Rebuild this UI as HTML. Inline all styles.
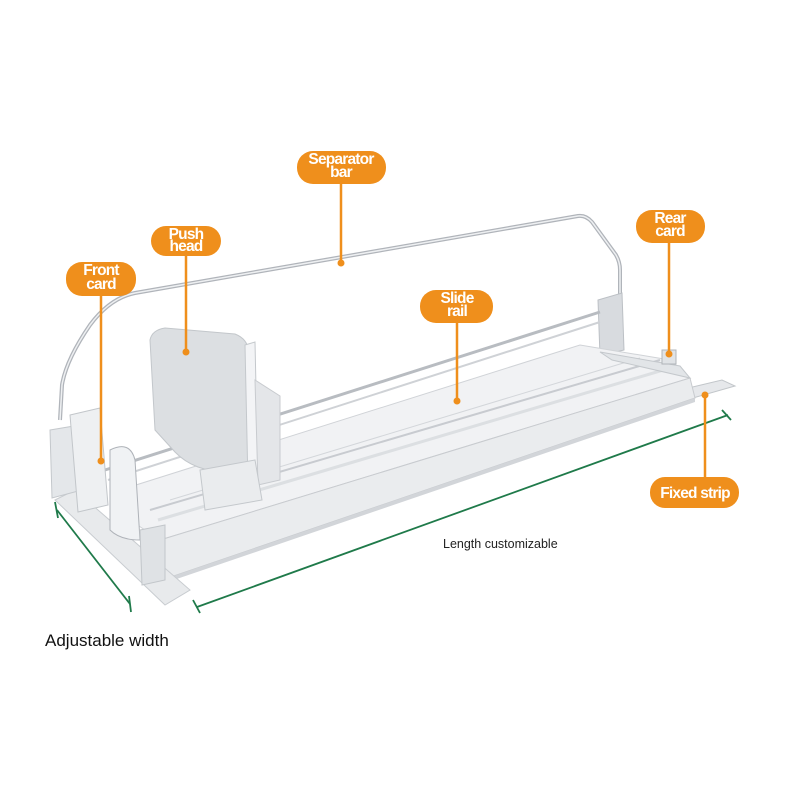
<!DOCTYPE html>
<html><head><meta charset="utf-8"><style>
html,body{margin:0;padding:0;background:#fff;}
svg{display:block;}
text{font-family:"Liberation Sans",Arial,sans-serif;}
.pl{font-weight:bold;fill:#fff;font-size:15.5px;text-anchor:middle;letter-spacing:-0.8px;}
</style></head><body>
<svg width="790" height="790" viewBox="0 0 790 790" xmlns="http://www.w3.org/2000/svg">
<rect width="790" height="790" fill="#fff"/>
<polygon points="680,390 722,380 735,386 693,398" fill="#e6e8eb" stroke="#c2c6ca" stroke-width="1"/>
<path d="M60,420 L62,385 Q66,360 90,325 Q110,298 135,293 L578,216 Q586,215 592,222 L616,255 Q620,262 620,270 L620,300" fill="none" stroke="#b0b4ba" stroke-width="4"/>
<path d="M60,420 L62,385 Q66,360 90,325 Q110,298 135,293 L578,216 Q586,215 592,222 L616,255 Q620,262 620,270 L620,300" fill="none" stroke="#eef0f2" stroke-width="1.5"/>
<polygon points="598,300 622,293 624,350 600,356" fill="#d8dbdf" stroke="#bcc0c5"/>
<line x1="105" y1="470" x2="600" y2="312" stroke="#b8bcc1" stroke-width="3"/>
<line x1="108" y1="480" x2="600" y2="322" stroke="#cfd2d6" stroke-width="2"/>
<polygon points="120,490 580,345 670,360 690,378 160,540 130,520" fill="#f1f2f4" stroke="#d0d3d7"/>
<line x1="150" y1="510" x2="660" y2="360" stroke="#c8cbd0" stroke-width="2"/>
<line x1="158" y1="520" x2="670" y2="368" stroke="#dcdfe2" stroke-width="3"/>
<line x1="170" y1="500" x2="640" y2="358" stroke="#d3d6da" stroke-width="1"/>
<polygon points="600,352 680,366 690,378 612,360" fill="#e2e5e8" stroke="#c4c8cc"/>
<rect x="662" y="350" width="14" height="14" fill="#e0e3e6" stroke="#b0b4b9"/>
<polygon points="160,540 690,378 695,398 162,580" fill="#eaecee" stroke="#c8cbcf"/>
<polygon points="162,580 695,398 695,402 162,584" fill="#d2d5d9"/>
<polygon points="55,500 75,490 190,590 165,605" fill="#e8eaec" stroke="#c8ccd0"/>
<polygon points="50,430 80,425 82,490 52,498" fill="#e4e7ea" stroke="#c4c8cc"/>
<polygon points="70,415 100,408 108,505 78,512" fill="#eef0f2" stroke="#c2c6ca"/>
<path d="M110,450 Q130,440 135,460 L140,540 Q120,540 110,530 Z" fill="#f0f2f4" stroke="#aeb2b8"/>
<polygon points="140,530 165,525 165,580 142,585" fill="#dfe2e5" stroke="#c2c6ca"/>
<path d="M150,340 Q152,330 165,328 L235,334 Q250,340 248,355 L250,470 Q200,478 175,452 L155,430 Z" fill="#dcdfe2" stroke="#c3c7cb"/>
<polygon points="245,345 255,342 258,480 248,485" fill="#f3f4f6" stroke="#c4c8cc"/>
<polygon points="255,380 280,396 280,480 258,485" fill="#e4e6e9" stroke="#c8cbcf"/>
<polygon points="200,470 255,460 262,500 205,510" fill="#eaecee" stroke="#c4c8cc"/>
<g stroke="#1f7a4a" stroke-width="1.8" fill="none">
<line x1="57" y1="510" x2="130" y2="604"/>
<line x1="55" y1="502" x2="58" y2="518"/>
<line x1="129" y1="596" x2="131" y2="612"/>
<line x1="197" y1="607" x2="728" y2="415"/>
<line x1="193" y1="600" x2="200" y2="613"/>
<line x1="722" y1="410" x2="731" y2="420"/>
</g>
<g stroke="#ef8f1c" stroke-width="2.5" fill="#ef8f1c">
<line x1="341" y1="180" x2="341" y2="263"/><circle cx="341" cy="263" r="3.5" stroke="none"/>
<line x1="186" y1="252" x2="186" y2="352"/><circle cx="186" cy="352" r="3.5" stroke="none"/>
<line x1="101" y1="292" x2="101" y2="461"/><circle cx="101" cy="461" r="3.5" stroke="none"/>
<line x1="457" y1="320" x2="457" y2="401"/><circle cx="457" cy="401" r="3.5" stroke="none"/>
<line x1="669" y1="240" x2="669" y2="354"/><circle cx="669" cy="354" r="3.5" stroke="none"/>
<line x1="705" y1="395" x2="705" y2="480"/><circle cx="705" cy="395" r="3.5" stroke="none"/>
</g>
<g fill="#ef8f1c">
<rect x="297" y="151" width="89" height="33" rx="16"/>
<rect x="151" y="226" width="70" height="30" rx="15"/>
<rect x="66" y="262" width="70" height="34" rx="16"/>
<rect x="420" y="290" width="73" height="33" rx="16"/>
<rect x="636" y="210" width="69" height="33" rx="16"/>
<rect x="650" y="477" width="89" height="31" rx="15"/>
</g>
<text class="pl" x="341" y="164">Separator</text><text class="pl" x="341" y="177">bar</text>
<text class="pl" x="186" y="239">Push</text><text class="pl" x="186" y="251">head</text>
<text class="pl" x="101" y="275">Front</text><text class="pl" x="101" y="289">card</text>
<text class="pl" x="457" y="303">Slide</text><text class="pl" x="457" y="316">rail</text>
<text class="pl" x="670" y="223">Rear</text><text class="pl" x="670" y="236">card</text>
<text class="pl" x="695" y="498">Fixed strip</text>
<text x="443" y="548" font-size="12.5" fill="#222">Length customizable</text>
<text x="45" y="646" font-size="17" fill="#111">Adjustable width</text>
</svg>
</body></html>
